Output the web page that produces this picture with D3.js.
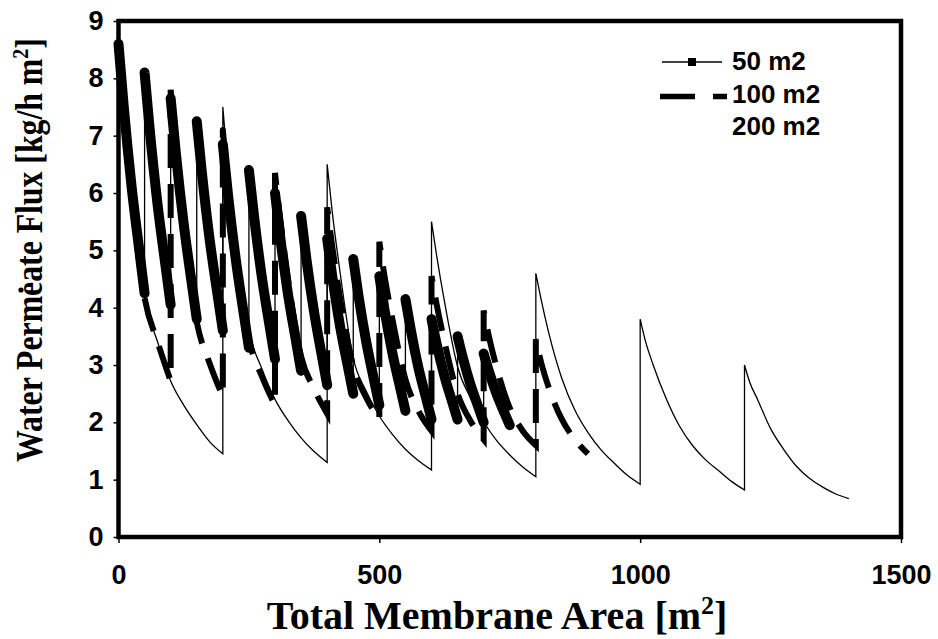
<!DOCTYPE html>
<html>
<head>
<meta charset="utf-8">
<script src="https://cdn.jsdelivr.net/npm/d3@7"></script>
<style>
  body { margin: 0; background: #fff; }
  svg { display: block; }
</style>
</head>
<body>
<div id="chart"></div>
<script>
// ------------------------------------
// Data
// ------------------------------------
const xTicks = [0, 500, 1000, 1500];
const yTicks = [0, 1, 2, 3, 4, 5, 6, 7, 8, 9];
const seriesNames = ["50 m2", "100 m2", "200 m2"];

// 50 m2 modules: start of each module and flux at distance into module
const starts50 = [0, 50, 100, 150, 200, 250, 300, 350, 400, 450, 500, 550, 600, 650, 700];
const dist50 = [0, 10, 25, 40, 50];
const flux50 = [
  [8.6, 7.51, 6.12, 4.99, 4.25],
  [8.1, 7.09, 5.79, 4.74, 4.05],
  [7.65, 6.69, 5.46, 4.45, 3.8],
  [7.25, 6.34, 5.17, 4.22, 3.6],
  [6.85, 5.96, 4.83, 3.9, 3.3],
  [6.4, 5.58, 4.52, 3.66, 3.1],
  [6.0, 5.23, 4.23, 3.43, 2.9],
  [5.6, 4.86, 3.92, 3.15, 2.65],
  [5.2, 4.53, 3.66, 2.96, 2.5],
  [4.85, 4.21, 3.4, 2.73, 2.3],
  [4.55, 3.96, 3.21, 2.6, 2.2],
  [4.15, 3.63, 2.95, 2.41, 2.05],
  [3.8, 3.36, 2.8, 2.35, 2.05],
  [3.5, 3.13, 2.65, 2.26, 2.0],
  [3.2, 2.89, 2.49, 2.16, 1.95]
];

// 100 m2 modules
const starts100 = [0, 100, 200, 300, 400, 500, 600, 700, 800];
const dist100 = [0, 10, 25, 50, 75, 100];
const flux100 = [
  [8.5, 7.4, 5.95, 4.17, 3.4, 2.72],
  [7.8, 6.7, 5.35, 3.75, 3.02, 2.45],
  [7.1, 6.15, 4.95, 3.45, 2.8, 2.3],
  [6.35, 5.55, 4.5, 3.15, 2.58, 2.15],
  [5.75, 5.05, 4.15, 2.98, 2.43, 2.05],
  [5.15, 4.55, 3.8, 2.75, 2.2, 1.85],
  [4.55, 4.05, 3.4, 2.5, 2.02, 1.7],
  [3.95, 3.5, 2.95, 2.25, 1.85, 1.6],
  [3.45, 3.05, 2.6, 2.05, 1.7, 1.45]
];

// 200 m2 modules
const starts200 = [0, 200, 400, 600, 800, 1000, 1200];
const dist200 = [0, 10, 25, 50, 75, 100, 125, 150, 175, 200];
const flux200 = [
  [8.5, 7.4, 5.95, 4.17, 3.4, 2.72, 2.3, 1.96, 1.66, 1.45],
  [7.5, 6.4, 5.15, 3.6, 2.93, 2.4, 2.03, 1.73, 1.49, 1.3],
  [6.5, 5.65, 4.6, 3.12, 2.54, 2.11, 1.79, 1.53, 1.33, 1.17],
  [5.5, 4.9, 4.1, 2.97, 2.42, 2.01, 1.68, 1.43, 1.22, 1.05],
  [4.6, 4.15, 3.55, 2.76, 2.21, 1.82, 1.52, 1.29, 1.08, 0.92],
  [3.8, 3.42, 3.0, 2.41, 1.94, 1.6, 1.35, 1.16, 0.97, 0.82],
  [3.0, 2.7, 2.4, 1.89, 1.53, 1.23, 1.02, 0.87, 0.75, 0.67]
];

// ------------------------------------
// Build chart
// ------------------------------------
const width = 938, height = 639;
const plot = { left: 118.5, right: 901, top: 21, bottom: 537 };

const svg = d3.select("#chart").append("svg")
    .attr("width", width)
    .attr("height", height)
    .style("background", "#fff");

const x = d3.scaleLinear().domain([0, 1500]).range([plot.left, plot.right]);
const y = d3.scaleLinear().domain([0, 9]).range([plot.bottom, plot.top]);

// turn module starts + distances into point lists
function modules(starts, dist, flux) {
  return starts.map((s, i) => dist.map((d, j) => [s + d, flux[i][j]]));
}
const segs50 = modules(starts50, dist50, flux50);
const segs100 = modules(starts100, dist100, flux100);
const segs200 = modules(starts200, dist200, flux200);

const line = d3.line()
    .x(p => x(p[0]))
    .y(p => y(p[1]))
    .curve(d3.curveMonotoneX);

// one path per series, modules joined by the vertical jump
function seriesPath(segs) {
  return segs.map((s, i) => {
    const p = line(s);
    return i ? p.replace(/^M/, "L") : p;
  }).join("");
}

const g = svg.append("g");

// 50 m2: thin connecting line + dense square markers (drawn as wide band)
g.append("path")
    .attr("d", seriesPath(segs50))
    .attr("fill", "none")
    .attr("stroke", "#000")
    .attr("stroke-width", 1.3);

g.selectAll("path.band50")
    .data(segs50)
    .enter()
    .append("path")
    .attr("class", "band50")
    .attr("d", line)
    .attr("fill", "none")
    .attr("stroke", "#000")
    .attr("stroke-width", 10)
    .attr("stroke-linecap", "round");

// 100 m2: thick dashed
g.append("path")
    .attr("d", seriesPath(segs100))
    .attr("fill", "none")
    .attr("stroke", "#000")
    .attr("stroke-width", 6)
    .attr("stroke-dasharray", "34,16");

// 200 m2: thin line
g.append("path")
    .attr("d", seriesPath(segs200))
    .attr("fill", "none")
    .attr("stroke", "#000")
    .attr("stroke-width", 1.3);

// ------------------------------------
// Axes
// ------------------------------------
const tickFont = "'Liberation Sans', Arial, sans-serif";

const yAxis = svg.append("g")
    .attr("transform", `translate(${plot.left},0)`)
    .call(d3.axisLeft(y).tickValues(yTicks).tickSize(5).tickSizeOuter(0).tickPadding(10));
yAxis.select(".domain").remove();
yAxis.selectAll("line").attr("stroke-width", 1.5);
yAxis.selectAll("text")
    .style("font-family", tickFont)
    .style("font-weight", "bold")
    .style("font-size", "27px")
    .attr("fill", "#000");

const xAxis = svg.append("g")
    .attr("transform", `translate(0,${plot.bottom})`)
    .call(d3.axisBottom(x).tickValues(xTicks).tickFormat(d3.format("d"))
      .tickSize(6).tickSizeOuter(0).tickPadding(22));
xAxis.select(".domain").remove();
xAxis.selectAll("line").attr("stroke-width", 1.5);
xAxis.selectAll("text")
    .style("font-family", tickFont)
    .style("font-weight", "bold")
    .style("font-size", "27px")
    .attr("fill", "#000");

// plot frame
svg.append("rect")
    .attr("x", plot.left)
    .attr("y", plot.top)
    .attr("width", plot.right - plot.left)
    .attr("height", plot.bottom - plot.top)
    .attr("fill", "none")
    .attr("stroke", "#000")
    .attr("stroke-width", 4.5);

// ------------------------------------
// Axis titles
// ------------------------------------
const titleFont = "'Liberation Serif', 'Times New Roman', serif";

const xTitle = svg.append("text")
    .attr("x", 497)
    .attr("y", 629)
    .attr("text-anchor", "middle")
    .style("font-family", titleFont)
    .style("font-weight", "bold")
    .style("font-size", "40px");
xTitle.append("tspan").text("Total Membrane Area [m");
xTitle.append("tspan").attr("dy", "-15").style("font-size", "26px").text("2");
xTitle.append("tspan").attr("dy", "15").text("]");

const yTitle = svg.append("text")
    .attr("text-anchor", "middle")
    .style("font-family", titleFont)
    .style("font-weight", "bold")
    .style("font-size", "38px");
yTitle.append("tspan").text("Water Permeate Flux [kg/h m");
yTitle.append("tspan").attr("dy", "-14").style("font-size", "24px").text("2");
yTitle.append("tspan").attr("dy", "14").text("]");

// squeeze the rotated title to the length seen in the picture
const yLen = yTitle.node().getComputedTextLength();
yTitle.attr("transform", `translate(42,250) rotate(-90) scale(${424 / yLen},1)`);

// flux dot over "Permeate"
svg.append("circle")
    .attr("cx", 21)
    .attr("cy", 290)
    .attr("r", 2.6)
    .attr("fill", "#000");

// ------------------------------------
// Legend
// ------------------------------------
const legend = svg.append("g").attr("class", "legend");
const legendFont = tickFont;

legend.append("line")
    .attr("x1", 662).attr("x2", 722).attr("y1", 62).attr("y2", 62)
    .attr("stroke", "#000").attr("stroke-width", 1.5);
legend.append("rect")
    .attr("x", 688).attr("y", 58).attr("width", 8).attr("height", 8)
    .attr("fill", "#000");

legend.append("line")
    .attr("x1", 660).attr("x2", 727).attr("y1", 96.5).attr("y2", 96.5)
    .attr("stroke", "#000").attr("stroke-width", 5.5)
    .attr("stroke-dasharray", "35,18");

legend.selectAll("text")
    .data(seriesNames)
    .enter()
    .append("text")
    .attr("x", 732)
    .attr("y", (d, i) => 70 + i * 32.5)
    .style("font-family", legendFont)
    .style("font-weight", "bold")
    .style("font-size", "26px")
    .text(d => d);
</script>
</body>
</html>
